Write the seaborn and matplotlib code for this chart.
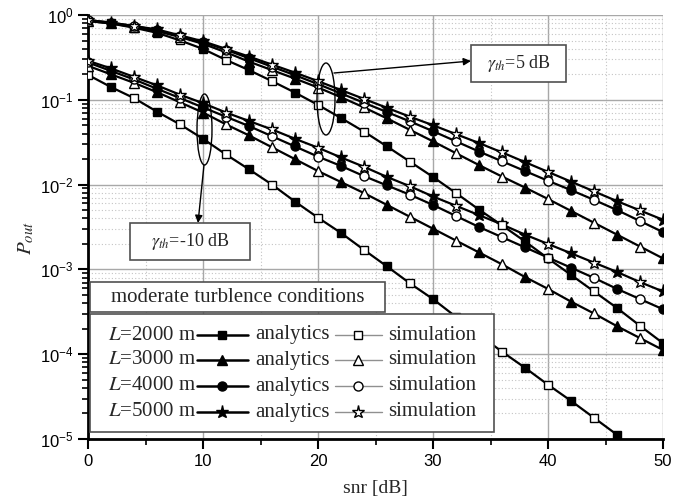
import numpy as np
import pandas as pd
import matplotlib
matplotlib.use("Agg")
import matplotlib.pyplot as plt
import seaborn as sns
from matplotlib.patches import Ellipse, Rectangle, FancyArrowPatch
from matplotlib.lines import Line2D

# valores: log10(P_out) frente a snr [dB]
snr = [0, 2, 4, 6, 8, 10, 12, 14, 16, 18, 20, 22, 24, 26, 28, 30,
       32, 34, 36, 38, 40, 42, 44, 46, 48, 50]
snr_l2000_m10 = snr[:24]

# gamma_th = -10 dB
log_p_m10_2000 = [-0.706, -0.85, -0.98, -1.14, -1.29, -1.46, -1.645, -1.82, -2.0, -2.2,
                  -2.39, -2.57, -2.77, -2.965, -3.165, -3.35, -3.56, -3.77, -3.97, -4.16,
                  -4.36, -4.55, -4.75, -4.95]
log_p_m10_3000 = [-0.6, -0.7, -0.8, -0.91, -1.03, -1.15, -1.29, -1.42, -1.56, -1.7,
                  -1.84, -1.97, -2.1, -2.24, -2.38, -2.52, -2.66, -2.8, -2.94, -3.09,
                  -3.23, -3.38, -3.52, -3.67, -3.81, -3.95]
log_p_m10_4000 = [-0.56, -0.66, -0.76, -0.87, -0.98, -1.09, -1.2, -1.31, -1.43, -1.55,
                  -1.67, -1.78, -1.9, -2.01, -2.12, -2.24, -2.37, -2.5, -2.62, -2.74,
                  -2.86, -2.98, -3.1, -3.23, -3.35, -3.47]
log_p_m10_5000 = [-0.54, -0.63, -0.73, -0.83, -0.94, -1.04, -1.15, -1.25, -1.35, -1.46,
                  -1.565, -1.68, -1.79, -1.91, -2.02, -2.14, -2.25, -2.36, -2.47, -2.59,
                  -2.7, -2.81, -2.92, -3.03, -3.15, -3.26]

# gamma_th = 5 dB
log_p_5_2000 = [-0.07, -0.1, -0.15, -0.21, -0.3, -0.4, -0.53, -0.65, -0.78, -0.915,
                -1.06, -1.215, -1.375, -1.55, -1.73, -1.91, -2.1, -2.295, -2.48, -2.67,
                -2.87, -3.065, -3.26, -3.455, -3.665, -3.87]
log_p_5_3000 = [-0.07, -0.1, -0.14, -0.19, -0.26, -0.34, -0.44, -0.55, -0.65, -0.75,
                -0.855, -0.97, -1.09, -1.22, -1.355, -1.49, -1.63, -1.77, -1.905, -2.035,
                -2.17, -2.31, -2.45, -2.59, -2.73, -2.87]
log_p_5_4000 = [-0.06, -0.09, -0.13, -0.18, -0.25, -0.32, -0.41, -0.51, -0.61, -0.71,
                -0.815, -0.925, -1.035, -1.145, -1.255, -1.37, -1.49, -1.61, -1.725, -1.84,
                -1.955, -2.065, -2.18, -2.3, -2.43, -2.56]
log_p_5_5000 = [-0.06, -0.09, -0.13, -0.17, -0.24, -0.31, -0.4, -0.49, -0.585, -0.68,
                -0.78, -0.885, -0.99, -1.095, -1.2, -1.3, -1.405, -1.51, -1.62, -1.735,
                -1.85, -1.965, -2.08, -2.195, -2.305, -2.415]

longitudes = [2000, 3000, 4000, 5000]
etiquetas_L = ["$L$=2000 m", "$L$=3000 m", "$L$=4000 m", "$L$=5000 m"]
marcadores = {2000: "s", 3000: "^", 4000: "o", 5000: "*"}
tamanos = {2000: 6, 3000: 7, 4000: 6.5, 5000: 9.5}

curvas = {
    ("-10", 2000): (snr_l2000_m10, log_p_m10_2000),
    ("-10", 3000): (snr, log_p_m10_3000),
    ("-10", 4000): (snr, log_p_m10_4000),
    ("-10", 5000): (snr, log_p_m10_5000),
    ("5", 2000): (snr, log_p_5_2000),
    ("5", 3000): (snr, log_p_5_3000),
    ("5", 4000): (snr, log_p_5_4000),
    ("5", 5000): (snr, log_p_5_5000),
}
partes = []
for (umbral, L), (x, lp) in curvas.items():
    partes.append(pd.DataFrame({"snr": x, "P": 10.0 ** np.array(lp), "L": L, "umbral": umbral}))
df = pd.concat(partes, ignore_index=True)

sns.set_style("ticks")
plt.rcParams["font.family"] = ["Liberation Sans", "DejaVu Sans"]
plt.rcParams["mathtext.fontset"] = "stix"

W, H = 697, 504
def fx(px):
    return px / W
def fy(py):
    return 1 - py / H

fig = plt.figure(figsize=(W / 100, H / 100), dpi=100)
ax = fig.add_axes([fx(88), fy(439), 575 / W, 424 / H])
ax.set_yscale("log")

for (umbral, L), sub in df.groupby(["umbral", "L"]):
    m = marcadores[L]
    # analitica: linea gruesa con marcadores llenos
    sns.lineplot(data=sub, x="snr", y="P", ax=ax, estimator=None, legend=False,
                 color="black", linewidth=1.6, marker=m, markersize=tamanos[L],
                 markevery=(1, 2), markerfacecolor="black", markeredgecolor="black",
                 markeredgewidth=1, zorder=3)
    # simulacion: marcadores vacios
    sns.lineplot(data=sub, x="snr", y="P", ax=ax, estimator=None, legend=False,
                 color="black", linestyle="none", marker=m, markersize=tamanos[L],
                 markevery=(0, 2), markerfacecolor="white", markeredgecolor="black",
                 markeredgewidth=1, zorder=4)

ax.set_xlim(0, 50)
ax.set_ylim(1e-5, 1)
ax.set_xticks(range(0, 51, 10))
ax.set_xticks(range(5, 50, 10), minor=True)
ax.grid(which="major", color="#a8a8a8", linewidth=1.0, linestyle="-")
ax.grid(which="minor", color="#c4c4c4", linewidth=0.8, linestyle=(0, (1, 2)))
ax.set_axisbelow(True)
for s in ["top", "right"]:
    ax.spines[s].set_visible(False)
for s in ["left", "bottom"]:
    ax.spines[s].set_linewidth(2)
    ax.spines[s].set_color("black")
ax.tick_params(which="major", direction="out", length=7, width=1.5, labelsize=12,
               colors="black")
ax.tick_params(which="minor", direction="out", length=4, width=1.2, colors="black")

ax.set_xlabel("snr [dB]", fontsize=14, family="Liberation Serif")
ax.xaxis.set_label_coords((375 - 88) / 575, -(480 - 439) / 424)
ax.set_ylabel("$P_{out}$", fontsize=15)
ax.yaxis.set_label_coords(-(88 - 36) / 575, (439 - 238) / 424)

# elipses y flechas
fig.add_artist(Ellipse((fx(326), fy(99)), 18 / W, 72 / H, transform=fig.transFigure,
                       fill=False, edgecolor="black", linewidth=1))
fig.add_artist(Ellipse((fx(204.5), fy(129.5)), 15 / W, 71 / H, transform=fig.transFigure,
                       fill=False, edgecolor="black", linewidth=1))
fig.add_artist(FancyArrowPatch((fx(334), fy(73)), (fx(471), fy(61)),
                               transform=fig.transFigure, arrowstyle="-|>",
                               mutation_scale=11, linewidth=1, color="black",
                               shrinkA=0, shrinkB=0))
fig.add_artist(FancyArrowPatch((fx(204), fy(165)), (fx(198), fy(223)),
                               transform=fig.transFigure, arrowstyle="-|>",
                               mutation_scale=11, linewidth=1, color="black",
                               shrinkA=0, shrinkB=0))

serif = "Liberation Serif"
borde = "#505050"

def caja(x0, y0, x1, y1):
    fig.add_artist(Rectangle((fx(x0), fy(y1)), (x1 - x0) / W, (y1 - y0) / H,
                             transform=fig.transFigure, facecolor="white",
                             edgecolor=borde, linewidth=1.2))

caja(471, 45, 566, 82)
fig.text(fx(518.5), fy(63.5), r"$\gamma_{th}$=5 dB", fontsize=13, family=serif,
         ha="center", va="center")
caja(130, 223, 250, 260)
fig.text(fx(190), fy(241.5), r"$\gamma_{th}$=-10 dB", fontsize=13, family=serif,
         ha="center", va="center")

# leyenda
caja(90, 282, 385, 312)
fig.text(fx(238), fy(297), "moderate turblence conditions", fontsize=15, family=serif,
         ha="center", va="center")
caja(90, 314, 494, 432)
filas = [335, 360, 386, 412]
for L, etiqueta, yp in zip(longitudes, etiquetas_L, filas):
    m = marcadores[L]
    fig.text(fx(108), fy(yp), etiqueta, fontsize=15, family=serif, ha="left", va="center")
    fig.add_artist(Line2D([fx(197), fx(248)], [fy(yp), fy(yp)], transform=fig.transFigure,
                          color="black", linewidth=1.8))
    fig.add_artist(Line2D([fx(222)], [fy(yp)], transform=fig.transFigure, marker=m,
                          markersize=tamanos[L], color="black", linestyle="none"))
    fig.text(fx(255), fy(yp), "analytics", fontsize=15, family=serif, ha="left", va="center")
    fig.add_artist(Line2D([fx(335), fx(382)], [fy(yp), fy(yp)], transform=fig.transFigure,
                          color="#909090", linewidth=1.0))
    fig.add_artist(Line2D([fx(358)], [fy(yp)], transform=fig.transFigure, marker=m,
                          markersize=tamanos[L], markerfacecolor="white",
                          markeredgecolor="black", markeredgewidth=1, linestyle="none"))
    fig.text(fx(388), fy(yp), "simulation", fontsize=15, family=serif, ha="left", va="center")

fig.savefig("out.png", dpi=100)
